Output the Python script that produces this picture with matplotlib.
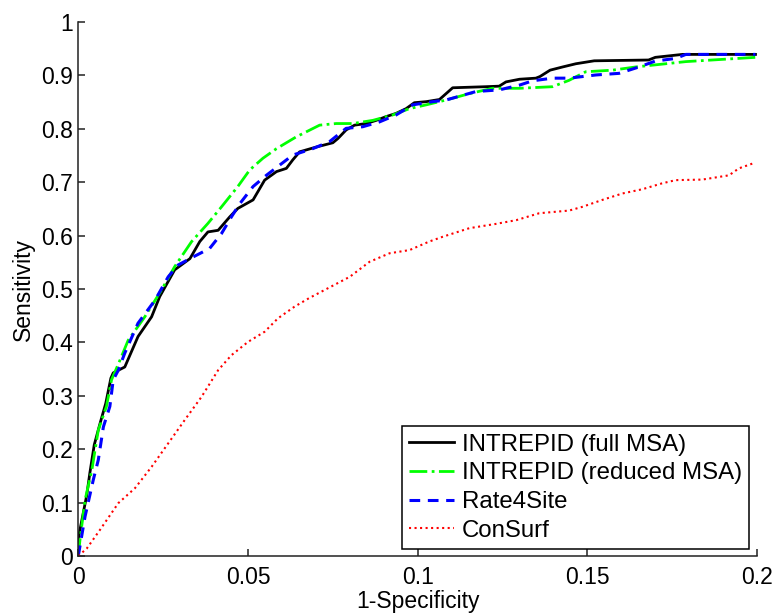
import matplotlib
matplotlib.use('Agg')
import matplotlib.pyplot as plt

# INTREPID (full MSA)
full_x = [0, 0.0, 0.0025, 0.0034, 0.0047, 0.0064, 0.0081, 0.0096, 0.0103, 0.0137,
          0.0176, 0.0216, 0.024, 0.0284, 0.0329, 0.0358, 0.0382, 0.0412, 0.0446,
          0.047, 0.0515, 0.0549, 0.0584, 0.0613, 0.0632, 0.0652, 0.0701, 0.075,
          0.0765, 0.0789, 0.0814, 0.0848, 0.0878, 0.0907, 0.0936, 0.0966, 0.099,
          0.1025, 0.1064, 0.1103, 0.120, 0.124, 0.126, 0.130, 0.1348, 0.136,
          0.139, 0.1427, 0.1466, 0.152, 0.168, 0.170, 0.178, 0.1995]
full_y = [0, 0.033, 0.114, 0.155, 0.208, 0.248, 0.286, 0.333, 0.343, 0.354,
          0.411, 0.448, 0.486, 0.536, 0.557, 0.589, 0.607, 0.610, 0.635,
          0.651, 0.667, 0.704, 0.720, 0.726, 0.742, 0.757, 0.766, 0.774,
          0.782, 0.798, 0.807, 0.810, 0.816, 0.823, 0.829, 0.838, 0.849,
          0.851, 0.855, 0.877, 0.879, 0.880, 0.888, 0.893, 0.895, 0.898,
          0.910, 0.916, 0.922, 0.9275, 0.929, 0.934, 0.9395, 0.9395]

# INTREPID (reduced MSA)
red_msa_x = [0, 0.0005, 0.002, 0.004, 0.0059, 0.0083, 0.0098, 0.0123, 0.0147,
             0.0196, 0.0245, 0.0284, 0.0334, 0.0382, 0.0422, 0.047, 0.0505,
             0.0544, 0.0584, 0.0642, 0.0711, 0.076, 0.0809, 0.0868, 0.0926,
             0.0976, 0.1025, 0.1083, 0.1152, 0.122, 0.1299, 0.1397, 0.1446,
             0.1495, 0.1574, 0.1642, 0.179, 0.1995]
red_msa_y = [0, 0.03, 0.105, 0.161, 0.236, 0.280, 0.330, 0.367, 0.404,
             0.448, 0.498, 0.542, 0.589, 0.623, 0.654, 0.692, 0.723,
             0.745, 0.763, 0.785, 0.807, 0.810, 0.810, 0.816, 0.826,
             0.838, 0.845, 0.854, 0.866, 0.876, 0.876, 0.879, 0.891,
             0.907, 0.910, 0.916, 0.926, 0.934]

# Rate4Site
r4s_x = [0, 0.002, 0.0044, 0.0059, 0.0074, 0.0093, 0.0103, 0.0118, 0.0137,
         0.0176, 0.0226, 0.0265, 0.0294, 0.0338, 0.0387, 0.0422, 0.0451,
         0.0476, 0.0515, 0.0554, 0.0593, 0.0632, 0.0691, 0.074, 0.0789,
         0.0838, 0.0887, 0.0936, 0.0985, 0.1044, 0.1083, 0.1172, 0.124,
         0.130, 0.1338, 0.1397, 0.1446, 0.1525, 0.1593, 0.1652, 0.170,
         0.176, 0.179, 0.1995]
r4s_y = [0, 0.074, 0.142, 0.180, 0.242, 0.280, 0.330, 0.348, 0.380,
         0.436, 0.479, 0.523, 0.545, 0.560, 0.576, 0.604, 0.635,
         0.660, 0.692, 0.713, 0.732, 0.751, 0.763, 0.776, 0.801,
         0.804, 0.813, 0.826, 0.845, 0.851, 0.854, 0.870, 0.873,
         0.882, 0.890, 0.895, 0.895, 0.901, 0.904, 0.916, 0.927,
         0.932, 0.9395, 0.9395]

# ConSurf
cons_x = [0, 0.0025, 0.0064, 0.0118, 0.0167, 0.0216, 0.0265, 0.0314, 0.0363,
          0.0412, 0.0451, 0.050, 0.0549, 0.0588, 0.0637, 0.068, 0.080,
          0.0858, 0.0917, 0.0976, 0.1034, 0.1074, 0.1152, 0.123, 0.129,
          0.1358, 0.1446, 0.1485, 0.1544, 0.1603, 0.1662, 0.172, 0.176,
          0.1838, 0.1917, 0.1946, 0.1995]
cons_y = [0, 0.014, 0.049, 0.099, 0.127, 0.167, 0.211, 0.255, 0.298,
          0.348, 0.376, 0.401, 0.420, 0.445, 0.467, 0.483, 0.523,
          0.551, 0.567, 0.573, 0.589, 0.598, 0.614, 0.622, 0.629,
          0.642, 0.647, 0.654, 0.667, 0.679, 0.687, 0.698, 0.704,
          0.705, 0.713, 0.726, 0.737]

labels = ['INTREPID (full MSA)', 'INTREPID (reduced MSA)', 'Rate4Site', 'ConSurf']

plt.rcParams['font.family'] = ['Liberation Sans', 'DejaVu Sans']
plt.rcParams['font.size'] = 16.5

fig = plt.figure(figsize=(7.75, 6.14), dpi=100)
ax = fig.add_axes([0.101, 0.0945, 0.876, 0.8695])

ax.plot(full_x, full_y, color='k', lw=2, linestyle='-', label=labels[0])
ax.plot(red_msa_x, red_msa_y, color=(0, 1, 0), lw=2, linestyle='-.', label=labels[1])
ax.plot(r4s_x, r4s_y, color=(0, 0, 1), lw=2.2, linestyle='--', dashes=(3.5, 2.5), label=labels[2])
ax.plot(cons_x, cons_y, color=(1, 0, 0), lw=1.5, linestyle=':', label=labels[3])

ax.set_xlim(0, 0.2)
ax.set_ylim(0, 1)
ax.set_xticks([0, 0.05, 0.1, 0.15, 0.2])
ax.set_xticklabels(['0', '0.05', '0.1', '0.15', '0.2'])
ax.set_yticks([i / 10 for i in range(11)])
ax.set_yticklabels(['0', '0.1', '0.2', '0.3', '0.4', '0.5', '0.6', '0.7', '0.8', '0.9', '1'])

for side in ['top', 'right']:
    ax.spines[side].set_visible(False)
for side in ['left', 'bottom']:
    ax.spines[side].set_color('#222222')
    ax.spines[side].set_linewidth(1.1)
ax.tick_params(direction='in', length=5, width=1.1, color='#222222')
ax.tick_params(axis='x', pad=7)
ax.tick_params(axis='y', pad=4)

ax.set_xlabel('1-Specificity', labelpad=1)
ax.set_ylabel('Sensitivity', labelpad=4)

leg = ax.legend(loc='lower right', bbox_to_anchor=(0.988, 0.013), borderaxespad=0,
                fancybox=False, edgecolor='k', framealpha=1, handlelength=1.9,
                handletextpad=0.3, labelspacing=0.28, borderpad=0.3, fontsize=17.3)
leg.get_frame().set_linewidth(1.1)

fig.savefig('out.png', dpi=100)
